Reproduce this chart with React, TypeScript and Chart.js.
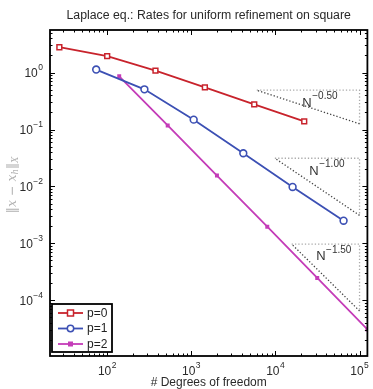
import React, { useEffect, useRef } from "react";
import { Chart, registerables } from "chart.js";

Chart.register(...registerables);

// ---- data ----
const dofP0 = [27, 100, 375, 1450, 5600, 22000];
const errP0 = [2.79, 1.94, 1.08, 0.551, 0.276, 0.139];
const dofP1 = [74, 277, 1067, 4150, 16000, 64600];
const errP1 = [1.13, 0.508, 0.149, 0.0383, 0.0098, 0.0025];
const dofP2 = [139, 524, 2018, 8000, 31400, 124000];
const errP2 = [0.861, 0.118, 0.0155, 0.00196, 2.47e-4, 3.08e-5];

const seriesNames = ["p=0", "p=1", "p=2"];

// reference slope triangles
const triX0 = [6000, 9840, 15600];
const triX1 = [100000, 100000, 100000];
const triY0 = [0.49, 0.0313, 9.7e-4];
const triY1 = [0.126, 0.0031, 6.5e-5];
const triLabelExp = ["\u22120.50", "\u22121.00", "\u22121.50"];
const triLabelX = [20900, 25300, 30500];
const triLabelY = [0.25, 0.0161, 5.1e-4];

const xMin = 20.9;
const xMax = 124000;
const yMin = 1.05e-5;
const yMax = 5.6;

const titleText = "Laplace eq.: Rates for uniform refinement on square";
const xTitle = "# Degrees of freedom";

const RED = "#c8232c";
const BLUE = "#3c50b4";
const MAGENTA = "#c43cb8";
const FONT = '"Liberation Sans", Arial, Helvetica, sans-serif';

function pts(xs: number[], ys: number[]) {
  return xs.map((v, i) => ({ x: v, y: ys[i] }));
}

function drawMarker(ctx: CanvasRenderingContext2D, kind: number, x: number, y: number) {
  ctx.save();
  if (kind === 0) {
    ctx.fillStyle = "#fff";
    ctx.strokeStyle = RED;
    ctx.lineWidth = 1.5;
    ctx.fillRect(x - 3, y - 3, 6, 6);
    ctx.strokeRect(x - 3, y - 3, 6, 6);
  } else if (kind === 1) {
    ctx.fillStyle = "#fff";
    ctx.strokeStyle = BLUE;
    ctx.lineWidth = 1.5;
    ctx.beginPath();
    ctx.arc(x, y, 3.2, 0, Math.PI * 2);
    ctx.fill();
    ctx.stroke();
  } else {
    ctx.fillStyle = MAGENTA;
    ctx.fillRect(x - 2.5, y - 2.5, 5, 5);
  }
  ctx.restore();
}

function drawPow(
  ctx: CanvasRenderingContext2D,
  base: string,
  exp: string,
  x: number,
  baseline: number,
  align: "left" | "right" | "center",
  baseSize: number,
  expSize: number,
  rise: number
) {
  ctx.save();
  ctx.textAlign = "left";
  ctx.textBaseline = "alphabetic";
  ctx.font = `${baseSize}px ${FONT}`;
  const wb = ctx.measureText(base).width;
  ctx.font = `${expSize}px ${FONT}`;
  const we = ctx.measureText(exp).width;
  const total = wb + we + 0.5;
  let x0 = x;
  if (align === "right") x0 = x - total;
  else if (align === "center") x0 = x - total / 2;
  ctx.font = `${baseSize}px ${FONT}`;
  ctx.fillText(base, x0, baseline);
  ctx.font = `${expSize}px ${FONT}`;
  ctx.fillText(exp, x0 + wb + 0.5, baseline - rise);
  ctx.restore();
}

const overlayPlugin = {
  id: "overlay",
  afterDatasetsDraw(chart: any) {
    const ctx: CanvasRenderingContext2D = chart.ctx;
    const { left, right, top, bottom } = chart.chartArea;
    const xs = chart.scales.x;
    const ys = chart.scales.y;
    ctx.save();

    // ticks
    ctx.strokeStyle = "#000";
    ctx.lineWidth = 1;
    ctx.beginPath();
    for (let e = Math.floor(Math.log10(xMin)); e <= Math.ceil(Math.log10(xMax)); e++) {
      for (let k = 1; k <= 9; k++) {
        const v = k * Math.pow(10, e);
        if (v < xMin || v > xMax) continue;
        const px = Math.round(xs.getPixelForValue(v)) + 0.5;
        const len = k === 1 ? 5 : 2.5;
        ctx.moveTo(px, bottom);
        ctx.lineTo(px, bottom - len);
        ctx.moveTo(px, top);
        ctx.lineTo(px, top + len);
      }
    }
    for (let e = Math.floor(Math.log10(yMin)); e <= Math.ceil(Math.log10(yMax)); e++) {
      for (let k = 1; k <= 9; k++) {
        const v = k * Math.pow(10, e);
        if (v < yMin || v > yMax) continue;
        const py = Math.round(ys.getPixelForValue(v)) + 0.5;
        const len = k === 1 ? 5 : 2.5;
        ctx.moveTo(left, py);
        ctx.lineTo(left + len, py);
        ctx.moveTo(right, py);
        ctx.lineTo(right - len, py);
      }
    }
    ctx.stroke();

    // box
    ctx.lineWidth = 1.8;
    ctx.strokeRect(left, top, right - left, bottom - top);

    // tick labels
    ctx.fillStyle = "#2a2a2a";
    for (let e = Math.ceil(Math.log10(xMin)); e <= Math.floor(Math.log10(xMax)); e++) {
      const px = xs.getPixelForValue(Math.pow(10, e));
      drawPow(ctx, "10", String(e), px, 374.5, "center", 12, 8.5, 7);
    }
    for (let e = Math.ceil(Math.log10(yMin)); e <= Math.floor(Math.log10(yMax)); e++) {
      const py = ys.getPixelForValue(Math.pow(10, e));
      const s = e < 0 ? "\u2212" + String(-e) : String(e);
      drawPow(ctx, "10", s, 43, py + 4.5, "right", 12, 8.5, 7);
    }

    // title
    ctx.fillStyle = "#2a2a2a";
    ctx.font = `12.3px ${FONT}`;
    ctx.textAlign = "center";
    ctx.textBaseline = "alphabetic";
    ctx.fillText(titleText, (left + right) / 2, 19);

    // x title
    ctx.font = `12px ${FONT}`;
    ctx.fillText(xTitle, (left + right) / 2, 386);

    // y title (rotated)
    ctx.save();
    ctx.translate(13, 185);
    ctx.rotate(-Math.PI / 2);
    ctx.fillStyle = "#b0b0b0";
    const pieces: { t: string; f: string; dy: number }[] = [
      { t: "\u2016", f: `12.5px "DejaVu Serif", serif`, dy: 0 },
      { t: "x", f: `italic 12.5px "DejaVu Serif", serif`, dy: 0 },
      { t: " \u2212 ", f: `12.5px "DejaVu Serif", serif`, dy: 0 },
      { t: "x", f: `italic 12.5px "DejaVu Serif", serif`, dy: 0 },
      { t: "h", f: `italic 8.5px "DejaVu Serif", serif`, dy: 3 },
      { t: "\u2016", f: `12.5px "DejaVu Serif", serif`, dy: 0 },
      { t: "X", f: `italic 8.5px "DejaVu Serif", serif`, dy: 3 },
    ];
    let tw = 0;
    for (const p of pieces) {
      ctx.font = p.f;
      tw += ctx.measureText(p.t).width;
    }
    let cx = -tw / 2;
    ctx.textAlign = "left";
    ctx.textBaseline = "middle";
    for (const p of pieces) {
      ctx.font = p.f;
      ctx.fillText(p.t, cx, p.dy);
      cx += ctx.measureText(p.t).width;
    }
    ctx.restore();

    // triangle labels
    ctx.fillStyle = "#333";
    for (let i = 0; i < triLabelExp.length; i++) {
      const px = xs.getPixelForValue(triLabelX[i]);
      const py = ys.getPixelForValue(triLabelY[i]);
      drawPow(ctx, "N", triLabelExp[i], px, py, "left", 13, 10, 7.5);
    }

    // legend
    const lx = 52, ly = 304, lw = 60, lh = 48;
    ctx.fillStyle = "#fff";
    ctx.fillRect(lx, ly, lw, lh);
    ctx.strokeStyle = "#000";
    ctx.lineWidth = 1.8;
    ctx.strokeRect(lx, ly, lw, lh);
    const colors = [RED, BLUE, MAGENTA];
    const rowY = [313, 328.5, 344];
    for (let i = 0; i < seriesNames.length; i++) {
      ctx.strokeStyle = colors[i];
      ctx.lineWidth = 1.8;
      ctx.beginPath();
      ctx.moveTo(58, rowY[i]);
      ctx.lineTo(83, rowY[i]);
      ctx.stroke();
      drawMarker(ctx, i, 70.5, rowY[i]);
      ctx.fillStyle = "#222";
      ctx.font = `12px ${FONT}`;
      ctx.textAlign = "left";
      ctx.textBaseline = "middle";
      ctx.fillText(seriesNames[i], 87, rowY[i] + 0.5);
    }
    ctx.restore();
  },
};

function triData(i: number) {
  return [
    { x: triX0[i], y: triY0[i] },
    { x: triX1[i], y: triY0[i] },
    { x: triX1[i], y: triY1[i] },
    { x: triX0[i], y: triY0[i] },
  ];
}

export default function App() {
  const ref = useRef<HTMLCanvasElement>(null);
  useEffect(() => {
    document.body.style.margin = "0";
    const triSets = [0, 1, 2].map((i) => ({
      label: "tri" + i,
      data: triData(i),
      borderColor: "#999",
      borderWidth: 1.3,
      borderDash: [1.3, 2],
      pointRadius: 0,
      tension: 0,
      fill: false,
      segment: {
        borderColor: (c: any) => (c.p0DataIndex === 2 ? "#444" : "#aaa"),
      },
    }));
    const chart = new Chart(ref.current!, {
      type: "line",
      data: {
        datasets: [
          ...triSets,
          {
            label: seriesNames[0],
            data: pts(dofP0, errP0),
            borderColor: RED,
            borderWidth: 1.8,
            pointStyle: "rect",
            pointRadius: 3.4,
            pointBorderWidth: 1.5,
            pointBackgroundColor: "#fff",
            pointBorderColor: RED,
            tension: 0,
          },
          {
            label: seriesNames[1],
            data: pts(dofP1, errP1),
            borderColor: BLUE,
            borderWidth: 1.8,
            pointStyle: "circle",
            pointRadius: 3.4,
            pointBorderWidth: 1.6,
            pointBackgroundColor: "#fff",
            pointBorderColor: BLUE,
            tension: 0,
          },
          {
            label: seriesNames[2],
            data: pts(dofP2, errP2),
            borderColor: MAGENTA,
            borderWidth: 1.8,
            pointStyle: "rect",
            pointRadius: 2.8,
            pointBorderWidth: 0,
            pointBackgroundColor: MAGENTA,
            pointBorderColor: MAGENTA,
            tension: 0,
          },
        ] as any,
      },
      options: {
        animation: false,
        responsive: false,
        devicePixelRatio: 1,
        layout: { padding: { left: 50, top: 30, right: 1, bottom: 33 } },
        scales: {
          x: { type: "logarithmic", min: xMin, max: xMax, display: false },
          y: { type: "logarithmic", min: yMin, max: yMax, display: false },
        },
        plugins: {
          legend: { display: false },
          title: { display: false },
          tooltip: { enabled: false },
        },
        events: [],
      } as any,
      plugins: [overlayPlugin],
    });
    return () => chart.destroy();
  }, []);
  return (
    <div style={{ width: 373, height: 389, background: "#fff" }}>
      <canvas ref={ref} width={373} height={389} style={{ display: "block" }} />
    </div>
  );
}
